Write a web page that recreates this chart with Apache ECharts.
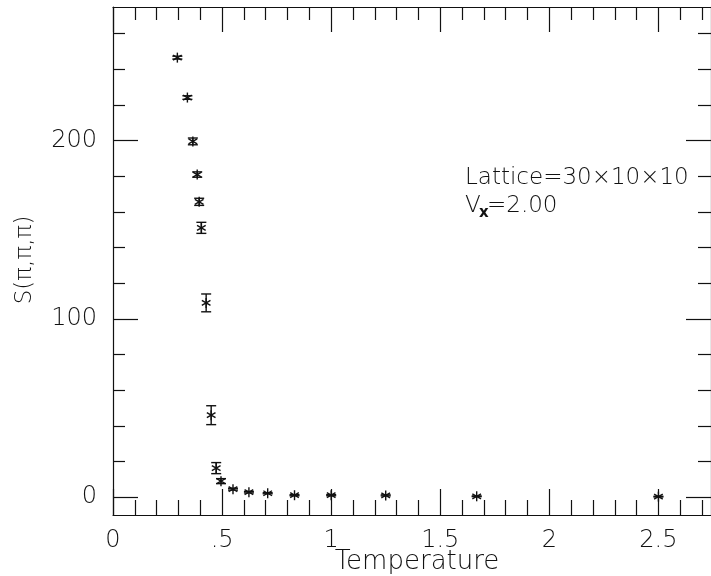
<!DOCTYPE html>
<html><head><meta charset="utf-8">
<script src="https://cdn.jsdelivr.net/npm/echarts@6/dist/echarts.min.js"></script>
<style>html,body{margin:0;padding:0;background:#fff}#c{width:711px;height:576px}</style>
</head><body><div id="c"></div>
<script>
// ---- data ----
const temperatures    = [0.295, 0.341, 0.366, 0.386, 0.395, 0.405, 0.427, 0.450, 0.473, 0.495, 0.550, 0.623, 0.709, 0.832, 1.000, 1.250, 1.667, 2.500];
const structureFactor = [246.6, 224.2, 199.6, 181.0, 165.7, 151.1, 109.0, 46.0, 16.3, 9.0, 4.5, 2.8, 2.2, 1.1, 1.1, 1.0, 0.5, 0.3];
const errorBars       = [0.8, 1.0, 1.9, 1.5, 2.0, 3.1, 5.0, 5.3, 3.1, 1.4, 0.5, 0.4, 0.3, 0.3, 0.3, 0.3, 0.2, 0.2];
const xMajorTicks = [0, 0.5, 1, 1.5, 2, 2.5];
const xTickLabels = ['0', '.5', '1', '1.5', '2', '2.5'];
const xMinorTicks = [0.1,0.2,0.3,0.4,0.6,0.7,0.8,0.9,1.1,1.2,1.3,1.4,1.6,1.7,1.8,1.9,2.1,2.2,2.3,2.4,2.6,2.7];
const yMajorTicks = [0, 100, 200];
const yTickLabels = ['0', '100', '200'];
const yMinorTicks = [20,40,60,80,120,140,160,180,220,240,260];
const xTitle = 'Temperature';
const yTitle = 'S(\u03c0,\u03c0,\u03c0)';
const noteLine1 = 'Lattice=30\u00d710\u00d710';

// ---- styling ----
const INK = '#111';
const FONT = 'DejaVu Sans';
const FW = 200;
const line = {color: INK, width: 1.2};
const X_MAX = 2.741;

function xAxisDef(pos, ticks, len, showLine, showLabel) {
  return {
    type: 'value', min: 0, max: X_MAX, position: pos,
    axisLine: {show: showLine, onZero: false, lineStyle: line},
    axisTick: {show: true, inside: true, length: len, customValues: ticks, lineStyle: line},
    axisLabel: showLabel ? {
      show: true, customValues: xMajorTicks, margin: 14,
      formatter: v => xTickLabels[xMajorTicks.indexOf(v)],
      fontFamily: FONT, fontWeight: FW, fontSize: 24, color: INK
    } : {show: false},
    splitLine: {show: false}
  };
}
function yAxisDef(pos, ticks, len, showLine, showLabel) {
  return {
    type: 'value', min: -10, max: 275, position: pos,
    axisLine: {show: showLine, onZero: false, lineStyle: line},
    axisTick: {show: true, inside: true, length: len, customValues: ticks, lineStyle: line},
    axisLabel: showLabel ? {
      show: true, customValues: yMajorTicks, margin: 16,
      formatter: v => yTickLabels[yMajorTicks.indexOf(v)],
      fontFamily: FONT, fontWeight: FW, fontSize: 24, color: INK
    } : {show: false},
    splitLine: {show: false}
  };
}

const chart = echarts.init(document.getElementById('c'), null, {renderer: 'canvas'});
chart.setOption({
  backgroundColor: '#fff',
  animation: false,
  grid: {left: 113, top: 7, width: 603, height: 508, containLabel: false},
  xAxis: [
    xAxisDef('bottom', xMajorTicks, 26, true, true),
    xAxisDef('bottom', xMinorTicks, 15, false, false),
    xAxisDef('top', xMajorTicks, 25, true, false),
    xAxisDef('top', xMinorTicks, 13, false, false)
  ],
  yAxis: [
    yAxisDef('left', yMajorTicks, 25, true, true),
    yAxisDef('left', yMinorTicks, 12, false, false),
    yAxisDef('right', yMajorTicks, 25, true, false),
    yAxisDef('right', yMinorTicks, 13, false, false)
  ],
  graphic: [
    {type: 'text', x: 417, y: 562, style: {text: xTitle, font: FW + ' 26px "' + FONT + '"', fill: INK, align: 'center', verticalAlign: 'middle'}},
    {type: 'text', x: 25, y: 260, rotation: Math.PI / 2, style: {text: yTitle, font: FW + ' 23px "' + FONT + '"', fill: INK, align: 'center', verticalAlign: 'middle'}},
    {type: 'text', x: 465, y: 178, style: {text: noteLine1, font: FW + ' 23px "' + FONT + '"', fill: INK, align: 'left', verticalAlign: 'middle'}},
    {type: 'text', x: 465, y: 206, style: {text: 'V', font: FW + ' 23px "' + FONT + '"', fill: INK, align: 'left', verticalAlign: 'middle'}},
    {type: 'text', x: 479, y: 213, style: {text: 'x', font: 'bold 15px "' + FONT + '"', fill: INK, align: 'left', verticalAlign: 'middle'}},
    {type: 'text', x: 487, y: 206, style: {text: '=2.00', font: FW + ' 23px "' + FONT + '"', fill: INK, align: 'left', verticalAlign: 'middle'}}
  ],
  series: [{
    type: 'custom',
    xAxisIndex: 0, yAxisIndex: 0,
    data: temperatures.map((t, i) => [t, structureFactor[i], errorBars[i]]),
    renderItem: function (params, api) {
      const x = api.value(0), y = api.value(1), e = api.value(2);
      const c = api.coord([x, y]);
      const hi = api.coord([x, y + e]);
      const lo = api.coord([x, y - e]);
      const st = {stroke: INK, lineWidth: 1.4};
      const kids = [];
      const cap = 5;
      kids.push({type: 'line', shape: {x1: c[0], y1: hi[1], x2: c[0], y2: lo[1]}, style: st});
      kids.push({type: 'line', shape: {x1: c[0] - cap, y1: hi[1], x2: c[0] + cap, y2: hi[1]}, style: st});
      kids.push({type: 'line', shape: {x1: c[0] - cap, y1: lo[1], x2: c[0] + cap, y2: lo[1]}, style: st});
      const r = 5;
      const dx = r * Math.cos(Math.PI / 6), dy = r * Math.sin(Math.PI / 6);
      kids.push({type: 'line', shape: {x1: c[0], y1: c[1] - r, x2: c[0], y2: c[1] + r}, style: st});
      kids.push({type: 'line', shape: {x1: c[0] - dx, y1: c[1] - dy, x2: c[0] + dx, y2: c[1] + dy}, style: st});
      kids.push({type: 'line', shape: {x1: c[0] - dx, y1: c[1] + dy, x2: c[0] + dx, y2: c[1] - dy}, style: st});
      return {type: 'group', children: kids};
    }
  }]
});
</script>
</body></html>
